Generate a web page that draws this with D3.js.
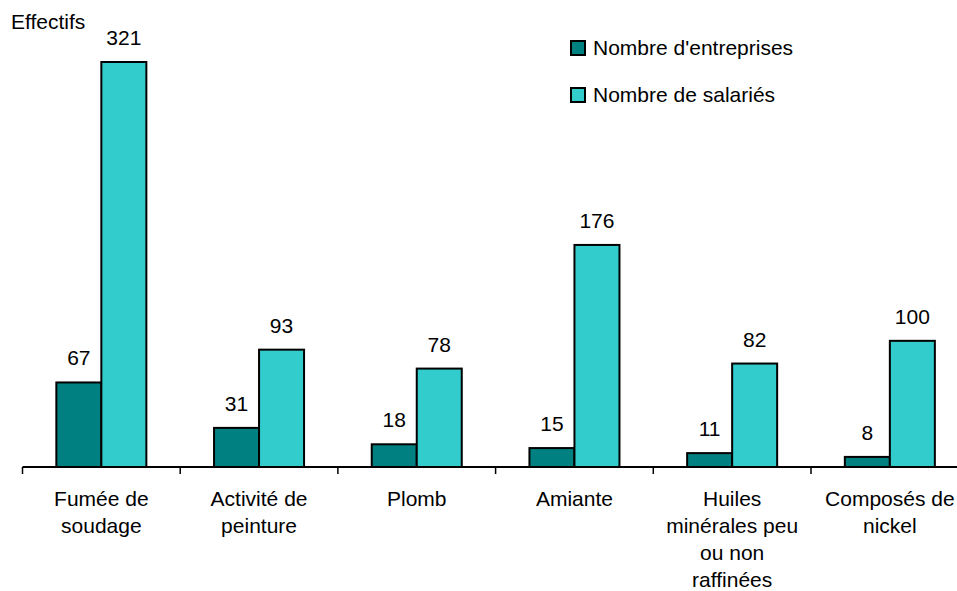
<!DOCTYPE html>
<html>
<head>
<meta charset="utf-8">
<script src="https://cdn.jsdelivr.net/npm/d3@7"></script>
<style>
  body { margin: 0; background: #fff; }
  svg { display: block; }
  text { font-family: "Liberation Sans", Arial, sans-serif; fill: #000; }
</style>
</head>
<body>
<svg width="957" height="591"></svg>
<script>
// données du graphique
var categories = [
  ["Fumée de", "soudage"],
  ["Activité de", "peinture"],
  ["Plomb"],
  ["Amiante"],
  ["Huiles", "minérales peu", "ou non", "raffinées"],
  ["Composés de", "nickel"]
];
var entreprises = [67, 31, 18, 15, 11, 8];
var salaries = [321, 93, 78, 176, 82, 100];
var series = ["Nombre d'entreprises", "Nombre de salariés"];
var couleurs = ["#008080", "#33CCCC"];

var svg = d3.select("svg"),
  width = +svg.attr("width"),
  height = +svg.attr("height");

var base = 467;
var fs = 21;

var ids = categories.map(function(c, i) { return "c" + i; });

// échelle des catégories
var x = d3.scaleBand()
  .domain(ids)
  .range([22.5, 22.5 + 6 * 157.7])
  .padding(0);

// échelle à l'intérieur d'une catégorie
var x1 = d3.scaleBand()
  .domain([0, 1])
  .range([0, x.bandwidth()])
  .paddingInner(0)
  .paddingOuter(0.752);

var y = d3.scaleLinear()
  .domain([0, 350])
  .range([base, base - 405 * 350 / 321]);

var data = ids.map(function(id, i) {
  return { id: id, vals: [entreprises[i], salaries[i]] };
});

// barres
var g = svg.append("g");
var groupes = g.selectAll("g")
  .data(data)
  .enter()
  .append("g")
  .attr("transform", function(d) { return "translate(" + x(d.id) + ",0)"; });

groupes.selectAll("rect")
  .data(function(d) { return d.vals.map(function(v, k) { return { k: k, v: v }; }); })
  .enter()
  .append("rect")
  .attr("x", function(d) { return x1(d.k); })
  .attr("y", function(d) { return y(d.v); })
  .attr("width", x1.bandwidth())
  .attr("height", function(d) { return base - y(d.v); })
  .attr("fill", function(d) { return couleurs[d.k]; })
  .attr("stroke", "#000")
  .attr("stroke-width", 2);

// étiquettes de valeurs
groupes.selectAll("text.val")
  .data(function(d) { return d.vals.map(function(v, k) { return { k: k, v: v }; }); })
  .enter()
  .append("text")
  .attr("class", "val")
  .attr("x", function(d) { return x1(d.k) + x1.bandwidth() / 2; })
  .attr("y", function(d) { return y(d.v) - 17; })
  .attr("text-anchor", "middle")
  .style("font-size", fs + "px")
  .text(function(d) { return d.v; });

// axe horizontal
svg.append("line")
  .attr("x1", x.range()[0]).attr("x2", width)
  .attr("y1", base).attr("y2", base)
  .attr("stroke", "#000").attr("stroke-width", 2);

var bornes = ids.map(function(id) { return x(id); }).concat([x.range()[1]]);
svg.selectAll("line.tick")
  .data(bornes)
  .enter()
  .append("line")
  .attr("class", "tick")
  .attr("x1", function(d) { return d; }).attr("x2", function(d) { return d; })
  .attr("y1", base).attr("y2", base + 7)
  .attr("stroke", "#000").attr("stroke-width", 1.5);

// libellés des catégories
var lib = svg.selectAll("text.cat")
  .data(data)
  .enter()
  .append("text")
  .attr("class", "cat")
  .attr("text-anchor", "middle")
  .style("font-size", fs + "px")
  .attr("transform", function(d) { return "translate(" + (x(d.id) + x.bandwidth() / 2) + ",506)"; });

lib.selectAll("tspan")
  .data(function(d, i) { return categories[i]; })
  .enter()
  .append("tspan")
  .attr("x", 0)
  .attr("y", function(d, j) { return j * 27; })
  .text(function(d) { return d; });

// titre de l'axe
svg.append("text")
  .attr("x", 11)
  .attr("y", 29)
  .style("font-size", fs + "px")
  .text("Effectifs");

// légende
var leg = svg.selectAll("g.leg")
  .data(series)
  .enter()
  .append("g")
  .attr("class", "leg")
  .attr("transform", function(d, i) { return "translate(571," + (41 + i * 47) + ")"; });

leg.append("rect")
  .attr("width", 14).attr("height", 14)
  .attr("fill", function(d, i) { return couleurs[i]; })
  .attr("stroke", "#000").attr("stroke-width", 2);

leg.append("text")
  .attr("x", 22)
  .attr("y", 14)
  .style("font-size", fs + "px")
  .text(function(d) { return d; });
</script>
</body>
</html>
